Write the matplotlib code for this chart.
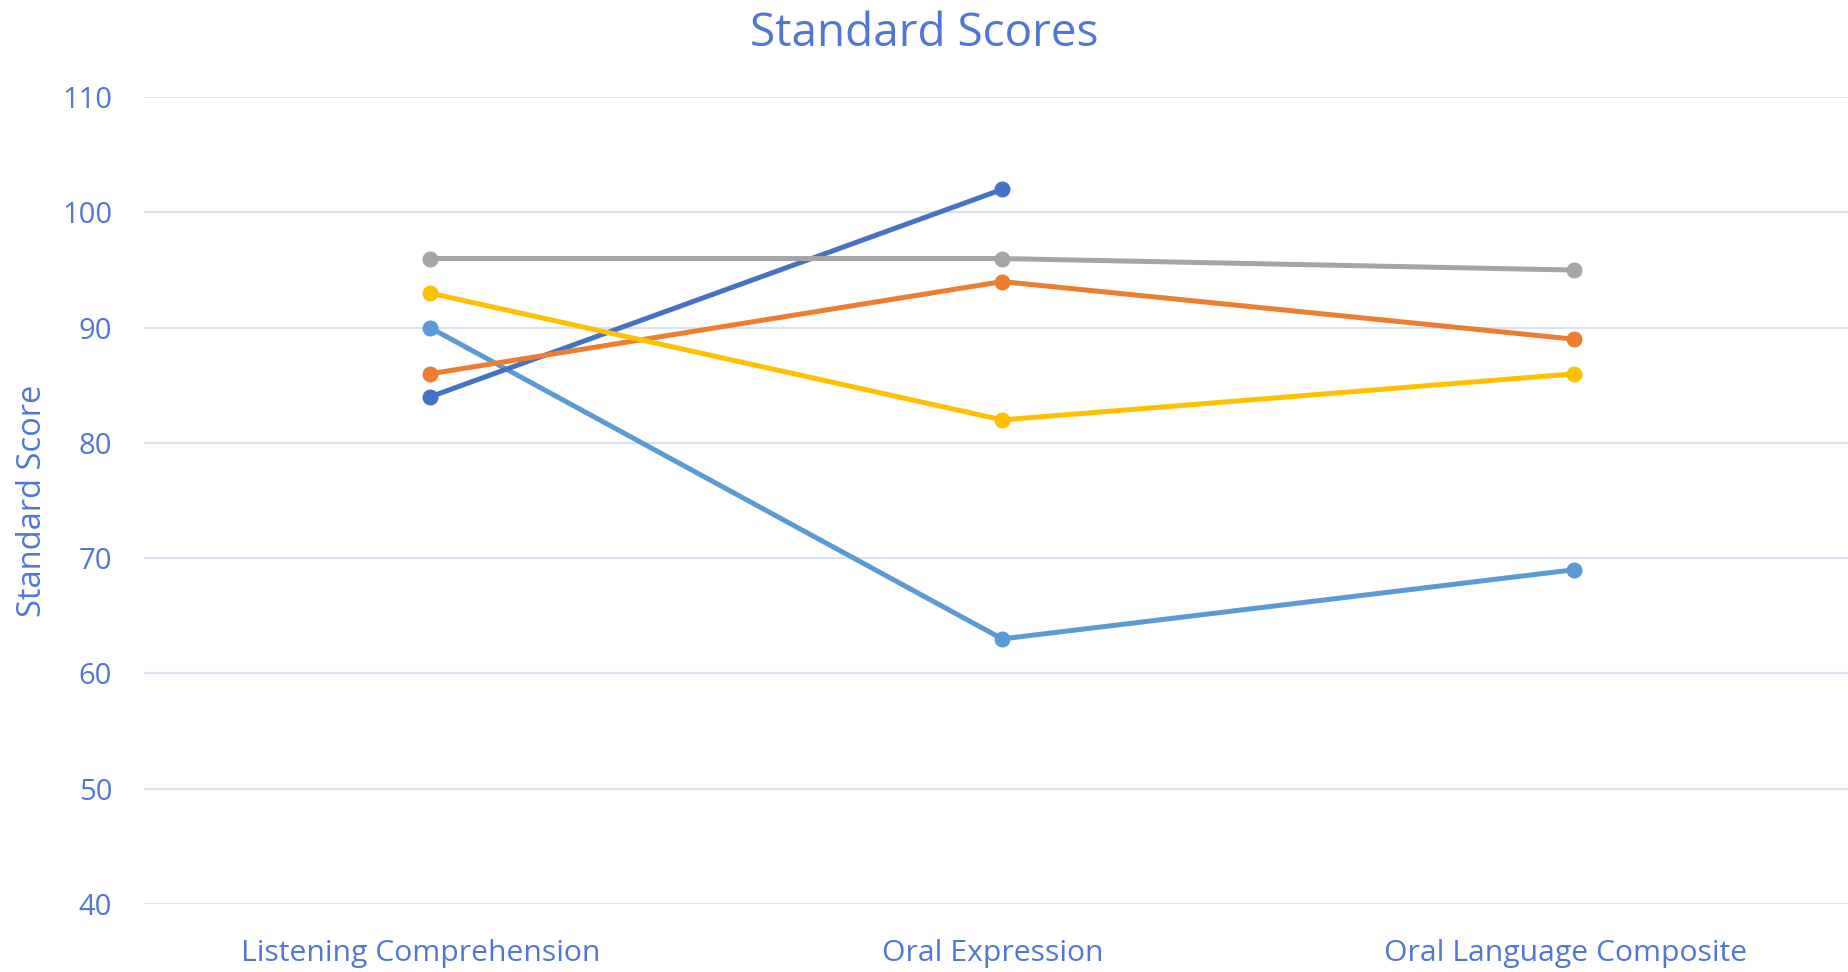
import numpy as np
import matplotlib.pyplot as plt
import matplotlib.transforms as mtransforms

categories = ['Listening Comprehension', 'Oral Expression', 'Oral Language Composite']
series_dark_blue = [84, 102, np.nan]
series_light_blue = [90, 63, 69]
series_gray = [96, 96, 95]
series_orange = [86, 94, 89]
series_yellow = [93, 82, 86]
yticks = [40, 50, 60, 70, 80, 90, 100, 110]

text_color = '#5077D6'
grid_color = '#D9E1F3'

plt.rcParams['font.family'] = ['Open Sans', 'DejaVu Sans']

fig = plt.figure(figsize=(18.49, 9.72), dpi=100)
ax = fig.add_axes([0.0779, 0.070, 0.9221, 0.830])

x = np.arange(len(categories))
series = [
    (series_light_blue, '#5B9BD5'),
    (series_dark_blue, '#4472C4'),
    (series_orange, '#ED7D31'),
    (series_gray, '#A5A5A5'),
    (series_yellow, '#FFC000'),
]
for vals, color in series:
    ax.plot(x, vals, color=color, linewidth=3.6, marker='o', markersize=10.5,
            solid_capstyle='round')

ax.set_xlim(-0.5, 2.48)
ax.set_ylim(40, 110)
ax.set_yticks(yticks)
ax.set_xticks(x)
ax.set_xticklabels(categories)
ax.grid(axis='y', color=grid_color, linewidth=1.5)
ax.set_axisbelow(True)
for s in ax.spines.values():
    s.set_visible(False)
ax.tick_params(axis='both', length=0, labelsize=21, colors=text_color)
ax.tick_params(axis='x', labelsize=21.7, pad=25)
ax.tick_params(axis='y', pad=23)

# category labels sit a little left of the points
shift = mtransforms.ScaledTranslation(-0.09, 0, fig.dpi_scale_trans)
for lbl in ax.get_xticklabels():
    lbl.set_transform(lbl.get_transform() + shift)

ax.set_ylabel('Standard Score', fontsize=23.5, color=text_color)
ax.yaxis.set_label_coords(-0.056, 0.5)

fig.text(0.5, 0.965, 'Standard Scores', ha='center', va='center', fontsize=33,
         color=text_color)

fig.savefig('out.png', dpi=100)
